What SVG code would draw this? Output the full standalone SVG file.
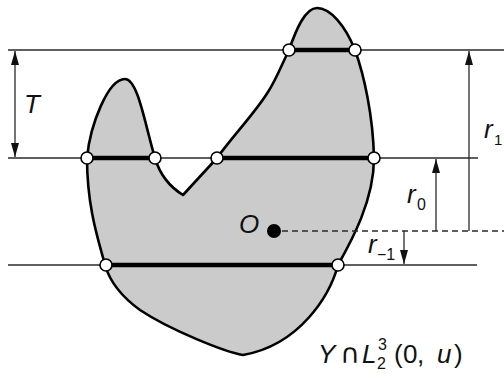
<svg xmlns="http://www.w3.org/2000/svg" width="504" height="374" viewBox="0 0 504 374">
<defs>
<marker id="ah" viewBox="0 0 14 8" refX="14" refY="4" markerWidth="14" markerHeight="8" markerUnits="userSpaceOnUse" orient="auto-start-reverse">
<path d="M0,0 L14,4 L0,8 Z" fill="#111"/>
</marker>
<style>
.thin{stroke:#2a2a2a;stroke-width:1.3;fill:none}
.thick{stroke:#000;stroke-width:4.5;fill:none}
.pt{fill:#fff;stroke:#000;stroke-width:1.6}
.arr{stroke:#2a2a2a;stroke-width:1.3;fill:none}
.t{font-family:"Liberation Sans","DejaVu Sans",Arial,sans-serif;fill:#111}
.i{font-style:italic}
.big{font-size:26px}
.sub{font-size:16px}
.cap{font-family:"DejaVu Sans","Liberation Sans",sans-serif;font-size:27px}
</style>
</defs>
<rect width="504" height="374" fill="#fff"/>
<g id="region">
<path d="M87,158 C90,125 108,79 125,79 C138,79 145,125 155,158 Q162,182 183,195 L217,158 C232,137 255,113 268,92 C276,80 283,62 289,50 C296,30 305,8 317,8 C330,8 345,25 355,50 C364,75 373,115 374,158 C374,200 352,240 338,265 C330,295 300,345 243,355 C225,352 170,330 140,310 C122,297 110,282 105,265 C100,245 87,210 87,158 Z" fill="#cbcbcb" stroke="#000" stroke-width="2.6" stroke-linejoin="round"/>
</g>
<g id="levels">
<line class="thin" x1="8" y1="50" x2="504" y2="50"/>
<line class="thin" x1="8" y1="158" x2="478" y2="158"/>
<line class="thin" x1="8" y1="265" x2="477" y2="265"/>
<line class="thin" x1="282" y1="231" x2="504" y2="231" stroke-dasharray="6 4"/>
<line class="thick" x1="289" y1="50" x2="355" y2="50"/>
<line class="thick" x1="87" y1="158" x2="155" y2="158"/>
<line class="thick" x1="217" y1="158" x2="374" y2="158"/>
<line class="thick" x1="106" y1="265" x2="338" y2="265"/>
</g>
<g id="connectors">
<line class="arr" x1="15" y1="51" x2="15" y2="157" marker-start="url(#ah)" marker-end="url(#ah)"/>
<line class="arr" x1="469" y1="231" x2="469" y2="51" marker-end="url(#ah)"/>
<line class="arr" x1="436" y1="231" x2="436" y2="159" marker-end="url(#ah)"/>
<line class="arr" x1="404" y1="231" x2="404" y2="264" marker-end="url(#ah)"/>
</g>
<g id="points">
<circle class="pt" cx="289" cy="50" r="6"/>
<circle class="pt" cx="355" cy="50" r="6"/>
<circle class="pt" cx="87" cy="158" r="6"/>
<circle class="pt" cx="155" cy="158" r="6"/>
<circle class="pt" cx="217" cy="158" r="6"/>
<circle class="pt" cx="374" cy="158" r="6"/>
<circle class="pt" cx="106" cy="265" r="6"/>
<circle class="pt" cx="338" cy="265" r="6"/>
</g>
<g id="origin">
<circle cx="274" cy="231" r="7" fill="#000"/>
<text class="t i big" x="239" y="233">O</text>
</g>
<g id="labels">
<text class="t i big" x="24" y="113">T</text>
<text class="t big" x="484" y="138"><tspan class="i">r</tspan><tspan x="494" y="145" style="font-size:15px">1</tspan></text>
<text class="t big" x="407" y="203"><tspan class="i">r</tspan><tspan class="sub" x="417" y="210">0</tspan></text>
<text class="t big" x="368" y="253"><tspan class="i">r</tspan><tspan class="sub" x="377" y="260">−1</tspan></text>
<text class="t big" x="318" y="363"><tspan class="i">Y</tspan><tspan class="cap" x="340">∩</tspan><tspan class="i" x="362">L</tspan><tspan class="sub" x="377" y="369">2</tspan><tspan class="sub" x="378" y="350">3</tspan><tspan x="394" y="363">(</tspan><tspan x="403">0</tspan><tspan x="417">,</tspan><tspan class="i" x="437">u</tspan><tspan x="454">)</tspan></text>
</g>
</svg>
